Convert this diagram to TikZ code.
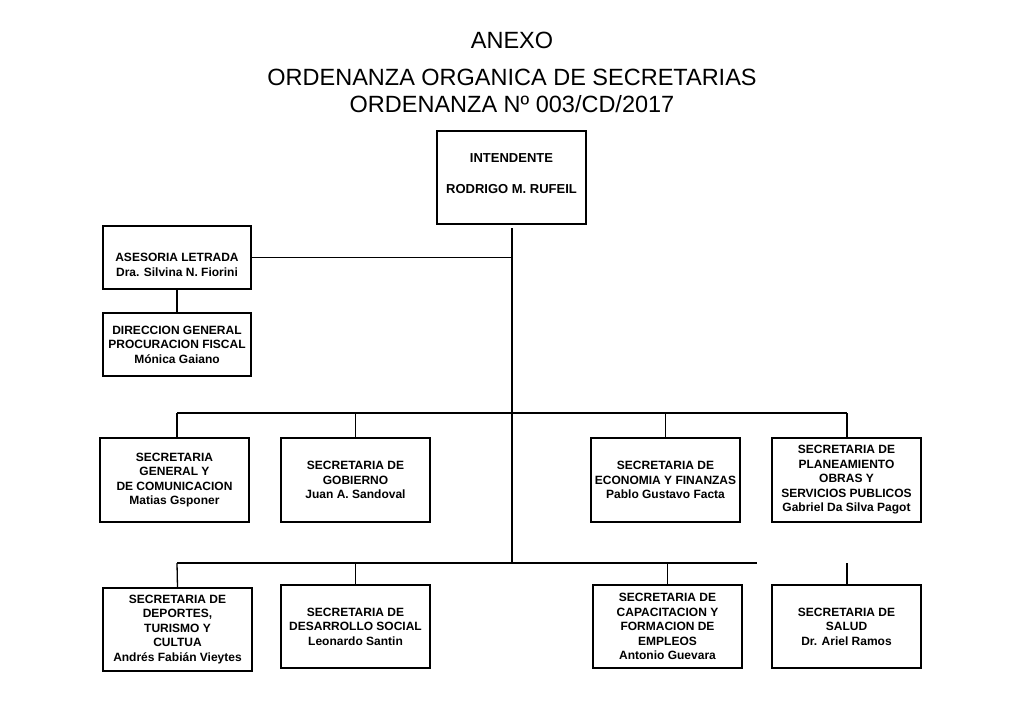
\documentclass[tikz,border=0pt]{standalone}
\usepackage{fontspec}
\setmainfont{Liberation Sans}
\begin{document}
\begin{tikzpicture}[x=1pt,y=-1pt,
  orgbox/.style={draw, line width=1.2pt, minimum width=149pt, minimum height=84pt,
    inner sep=0pt, align=center, font=\bfseries\fontsize{12}{14.5}\selectfont},
  boxtext/.style={inner sep=0pt, align=center, font=\bfseries\fontsize{12}{14.5}\selectfont},
  titletext/.style={inner sep=0pt, anchor=base, font=\fontsize{23.5}{27}\selectfont},
  link/.style={line width=1.3pt}]
\useasboundingbox (0,0) rectangle (1024,709);
% titles
\node[titletext] (t1) at (512,48.5) {ANEXO};
\node[titletext] (t2) at (512,85.5) {ORDENANZA ORGANICA DE SECRETARIAS};
\node[titletext] (t3) at (512,112.5) {ORDENANZA Nº 003/CD/2017};
% top
\node[orgbox, minimum height=93pt] (int) at (511.5,177.5) {};
\node[boxtext, font=\bfseries\fontsize{13}{15}\selectfont] (intt) at (511.5,173.5) {INTENDENTE\\[16pt]RODRIGO M. RUFEIL};
\node[orgbox, minimum height=63pt, minimum width=148pt] (ases) at (177,257.5) {};
\node[boxtext] (asest) at (177,265) {ASESORIA LETRADA\\Dra. Silvina N. Fiorini};
\node[orgbox, minimum height=63pt, minimum width=148pt] (dir) at (177,344.5) {DIRECCION GENERAL\\PROCURACION FISCAL\\Mónica Gaiano};
% row 1
\node[orgbox] (sg) at (174.5,480) {SECRETARIA\\GENERAL Y\\DE COMUNICACION\\Matias Gsponer};
\node[orgbox] (gob) at (355.5,480) {SECRETARIA DE\\GOBIERNO\\Juan A. Sandoval};
\node[orgbox] (eco) at (665.5,480) {SECRETARIA DE\\ECONOMIA Y FINANZAS\\Pablo Gustavo Facta};
\node[orgbox] (pla) at (846.5,480) {SECRETARIA DE\\PLANEAMIENTO\\OBRAS Y\\SERVICIOS PUBLICOS\\Gabriel Da Silva Pagot};
% row 2
\node[orgbox, minimum height=83pt] (dep) at (177.5,629.5) {SECRETARIA DE\\DEPORTES,\\TURISMO Y\\CULTUA\\Andrés Fabián Vieytes};
\node[orgbox, minimum height=83pt] (des) at (355.5,626.5) {SECRETARIA DE\\DESARROLLO SOCIAL\\Leonardo Santin};
\node[orgbox, minimum height=83pt] (cap) at (667.5,626.5) {SECRETARIA DE\\CAPACITACION Y\\FORMACION DE\\EMPLEOS\\Antonio Guevara};
\node[orgbox, minimum height=83pt] (sal) at (846.5,626.5) {SECRETARIA DE\\SALUD\\Dr. Ariel Ramos};
% coordinates
\coordinate (top) at (512,228);
\coordinate (b1L) at (177,413);
\coordinate (b1R) at (847,413);
\coordinate (b2L) at (177,563);
\coordinate (b2R) at (757,563);
\coordinate (b2M) at (512,563);
\coordinate (salTop) at (847,563);
% connectors
\draw[link] (top) -- (b2M);
\draw[link] (ases.east) -- (ases.east -| top);
\draw[link] (ases.south) -- (dir.north);
\draw[link] (b1L) -- (b1R);
\draw[link] (b1L) -- (b1L |- sg.north);
\draw[link] (gob.north |- b1L) -- (gob.north);
\draw[link] (eco.north |- b1L) -- (eco.north);
\draw[link] (b1R) -- (pla.north -| b1R);
\draw[link] (b2L) -- (b2R);
\draw[link] (b2L) -- (dep.north);
\draw[link] (des.north |- b2L) -- (des.north);
\draw[link] (cap.north |- b2L) -- (cap.north);
\draw[link] (salTop) -- (sal.north -| salTop);
\end{tikzpicture}
\end{document}
